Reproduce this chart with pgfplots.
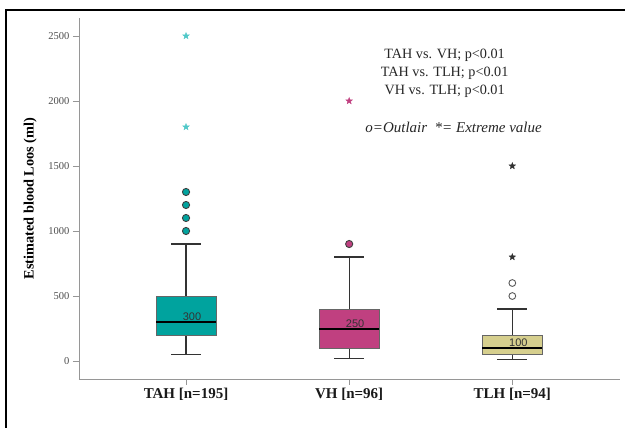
\documentclass[border=0pt]{standalone}
\usepackage{pgfplots}
\pgfplotsset{compat=1.18}
\usepackage{fontspec}
\setmainfont{Liberation Serif}
\newfontfamily\arialf{Liberation Sans}
\definecolor{tahc}{RGB}{0,163,158}
\definecolor{tahs}{RGB}{80,200,200}
\definecolor{vhc}{RGB}{192,64,128}
\definecolor{tlhc}{RGB}{214,207,142}
\definecolor{axgray}{RGB}{150,150,150}
\pgfdeclareplotmark{fstar}{%
 \pgfpathmoveto{\pgfpointpolar{90}{\pgfplotmarksize}}%
 \pgfpathlineto{\pgfpointpolar{126}{0.42\pgfplotmarksize}}%
 \pgfpathlineto{\pgfpointpolar{162}{\pgfplotmarksize}}%
 \pgfpathlineto{\pgfpointpolar{198}{0.42\pgfplotmarksize}}%
 \pgfpathlineto{\pgfpointpolar{234}{\pgfplotmarksize}}%
 \pgfpathlineto{\pgfpointpolar{270}{0.42\pgfplotmarksize}}%
 \pgfpathlineto{\pgfpointpolar{306}{\pgfplotmarksize}}%
 \pgfpathlineto{\pgfpointpolar{342}{0.42\pgfplotmarksize}}%
 \pgfpathlineto{\pgfpointpolar{18}{\pgfplotmarksize}}%
 \pgfpathlineto{\pgfpointpolar{54}{0.42\pgfplotmarksize}}%
 \pgfpathclose\pgfusepathqfillstroke}
\begin{document}
\begin{tikzpicture}
\useasboundingbox (0pt,0pt) rectangle (625pt,428pt);
\draw[line width=1.8pt] (6pt,-20pt) -- (6pt,418pt) -- (640pt,418pt);
\begin{axis}[
  at={(79pt,49pt)}, anchor=south west, scale only axis,
  width=541pt, height=361pt,
  xmin=0.344, xmax=3.66, ymin=-138, ymax=2638,
  axis lines=left, axis line style={-, axgray, line width=0.8pt},
  tick style={axgray, line width=0.8pt}, major tick length=6pt, tick align=outside,
  xtick={1,2,3}, xticklabels={TAH [n=195], VH [n=96], TLH [n=94]},
  xticklabel style={font=\fontsize{15}{17}\selectfont\bfseries, text=black!90},
  ytick={0,500,1000,1500,2000,2500},
  yticklabel style={font=\fontsize{10.5}{12}\selectfont, text=black!70},
  /pgf/number format/assume math mode=true,
  /pgf/number format/1000 sep={},
  scaled ticks=false,
  ylabel={Estimated blood Loos (ml)},
  ylabel style={font=\fontsize{14.3}{16}\selectfont\bfseries, at={(axis description cs:-0.09,0.5)}, anchor=center},
  clip=false,
]
% ---- TAH: whiskers 50/900, box 200-500, median 300
\addplot[draw=black!80, line width=1.3pt] coordinates {(1,50) (1,200)};
\addplot[draw=black!80, line width=1.3pt] coordinates {(1,500) (1,900)};
\addplot[draw=black!80, line width=1.3pt] coordinates {(0.908,50) (1.092,50)};
\addplot[draw=black!80, line width=1.3pt] coordinates {(0.908,900) (1.092,900)};
\addplot[fill=tahc, draw=black!60, line width=0.8pt] coordinates {(0.816,200) (1.184,200) (1.184,500) (0.816,500) (0.816,200)};
\addplot[draw=black, line width=2pt] coordinates {(0.816,300) (1.184,300)};
% ---- VH: whiskers 20/800, box 100-400, median 250
\addplot[draw=black!80, line width=1.3pt] coordinates {(2,20) (2,100)};
\addplot[draw=black!80, line width=1.3pt] coordinates {(2,400) (2,800)};
\addplot[draw=black!80, line width=1.3pt] coordinates {(1.908,20) (2.092,20)};
\addplot[draw=black!80, line width=1.3pt] coordinates {(1.908,800) (2.092,800)};
\addplot[fill=vhc, draw=black!60, line width=0.8pt] coordinates {(1.816,100) (2.184,100) (2.184,400) (1.816,400) (1.816,100)};
\addplot[draw=black, line width=2pt] coordinates {(1.816,250) (2.184,250)};
% ---- TLH: whiskers 10/400, box 50-200, median 100
\addplot[draw=black!80, line width=1.3pt] coordinates {(3,10) (3,50)};
\addplot[draw=black!80, line width=1.3pt] coordinates {(3,200) (3,400)};
\addplot[draw=black!80, line width=1.3pt] coordinates {(2.908,10) (3.092,10)};
\addplot[draw=black!80, line width=1.3pt] coordinates {(2.908,400) (3.092,400)};
\addplot[fill=tlhc, draw=black!60, line width=0.8pt] coordinates {(2.816,50) (3.184,50) (3.184,200) (2.816,200) (2.816,50)};
\addplot[draw=black, line width=2pt] coordinates {(2.816,100) (3.184,100)};
% outliers and extremes
\addplot[only marks, mark=*, mark size=3.6pt, mark options={fill=tahc, draw=black!75, line width=0.9pt}] coordinates {(1,1000) (1,1100) (1,1200) (1,1300)};
\addplot[only marks, mark=fstar, mark size=3.4pt, mark options={fill=tahs, draw=tahs}] coordinates {(1,1800) (1,2500)};
\addplot[only marks, mark=*, mark size=3.6pt, mark options={fill=vhc, draw=black!75, line width=0.9pt}] coordinates {(2,900)};
\addplot[only marks, mark=fstar, mark size=3.4pt, mark options={fill=vhc, draw=vhc}] coordinates {(2,2000)};
\addplot[only marks, mark=*, mark size=3.4pt, mark options={fill=white, draw=black!65, line width=0.9pt}] coordinates {(3,500) (3,600)};
\addplot[only marks, mark=fstar, mark size=3.4pt, mark options={fill=black!80, draw=black!80}] coordinates {(3,800) (3,1500)};
% median labels
\node[font=\arialf\fontsize{11}{12}\selectfont, text=black!80, anchor=south, inner sep=1pt, xshift=6pt] at (axis cs:1,300) {300};
\node[font=\arialf\fontsize{11}{12}\selectfont, text=black!80, anchor=south, inner sep=1pt, xshift=6pt] at (axis cs:2,250) {250};
\node[font=\arialf\fontsize{11}{12}\selectfont, text=black!80, anchor=south, inner sep=1pt, xshift=6pt] at (axis cs:3,100) {100};
% annotations
\node[align=center, font=\fontsize{14.2}{18}\selectfont, text=black!85] at (axis cs:2.585,2215) {TAH vs. VH; p<0.01\\TAH vs. TLH; p<0.01\\VH vs. TLH; p<0.01};
\node[font=\itshape\fontsize{15}{16}\selectfont, text=black!85] at (axis cs:2.64,1800) {o=Outlair\ \ *= Extreme value};
\end{axis}
\end{tikzpicture}
\end{document}
